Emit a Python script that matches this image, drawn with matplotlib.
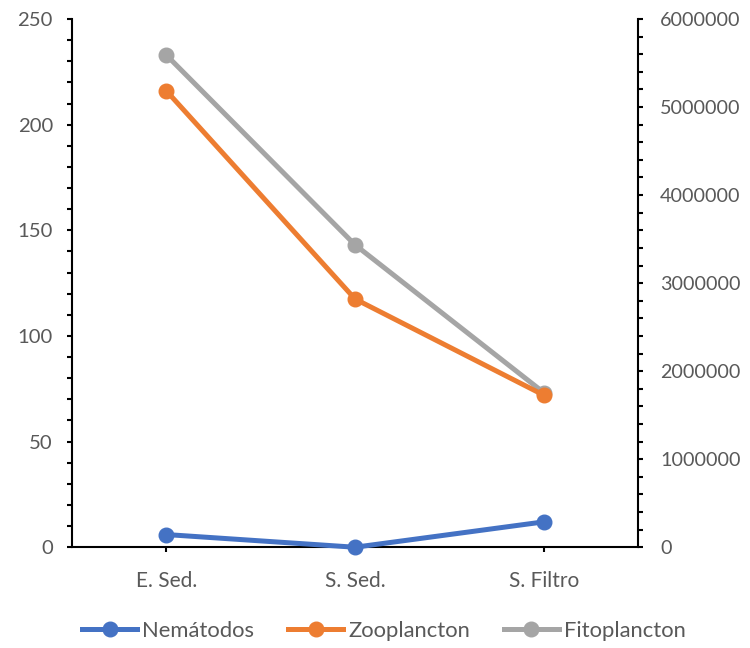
import matplotlib
matplotlib.use("Agg")
import matplotlib.pyplot as plt
from matplotlib.ticker import MultipleLocator

categories = ["E. Sed.", "S. Sed.", "S. Filtro"]
nematodos = [6, 0, 12]
zooplancton = [216, 117.5, 72]
fitoplancton = [5590000, 3435000, 1757000]

plt.rcParams['font.family'] = ['Lato', 'DejaVu Sans']
txt_color = '#595959'
fs = 14.2

fig = plt.figure(figsize=(7.5, 6.48), dpi=100)
ax = fig.add_axes([0.096, 0.1555, 0.7547, 0.8152])
ax2 = ax.twinx()

x = list(range(len(categories)))
lw = 3.6
ms = 10.5
l1, = ax.plot(x, nematodos, color='#4472C4', lw=lw, marker='o', ms=ms, label='Nemátodos', zorder=3, clip_on=False)
l2, = ax.plot(x, zooplancton, color='#ED7D31', lw=lw, marker='o', ms=ms, label='Zooplancton', zorder=3, clip_on=False)
l3, = ax2.plot(x, fitoplancton, color='#A5A5A5', lw=lw, marker='o', ms=ms, label='Fitoplancton', zorder=3, clip_on=False)

ax.set_xlim(-0.5, 2.5)
ax.set_ylim(0, 250)
ax2.set_ylim(0, 6000000)

ax.set_xticks(x)
ax.set_xticklabels(categories)
ax.yaxis.set_major_locator(MultipleLocator(50))
ax.yaxis.set_minor_locator(MultipleLocator(10))
ax2.yaxis.set_major_locator(MultipleLocator(1000000))
ax2.yaxis.set_minor_locator(MultipleLocator(200000))
ax2.yaxis.set_major_formatter(matplotlib.ticker.FuncFormatter(lambda v, p: f"{int(v)}"))

for a in (ax, ax2):
    for s in a.spines.values():
        s.set_visible(False)
    a.tick_params(axis='both', which='both', colors='black', labelcolor=txt_color, labelsize=fs, width=1.5, length=3.8)

ax.spines['left'].set_visible(True)
ax.spines['bottom'].set_visible(True)
ax.spines['left'].set_linewidth(1.5)
ax.spines['bottom'].set_linewidth(1.5)
ax2.spines['right'].set_visible(True)
ax2.spines['right'].set_linewidth(1.5)
ax.tick_params(axis='x', pad=13, labelsize=15)
ax.tick_params(axis='y', pad=10, labelsize=14.6)
ax2.tick_params(axis='y', pad=12.2)

ax.patch.set_visible(False)
ax.set_zorder(ax2.get_zorder() + 1)

lfs = 15.8
leg = fig.legend(handles=[l1, l2, l3], loc='center', bbox_to_anchor=(0.512, 0.026), ncol=3,
                 frameon=False, fontsize=lfs, handlelength=2.5, handletextpad=0.23, columnspacing=1.55)
for t in leg.get_texts():
    t.set_color(txt_color)

fig.savefig("out.png", dpi=100)
